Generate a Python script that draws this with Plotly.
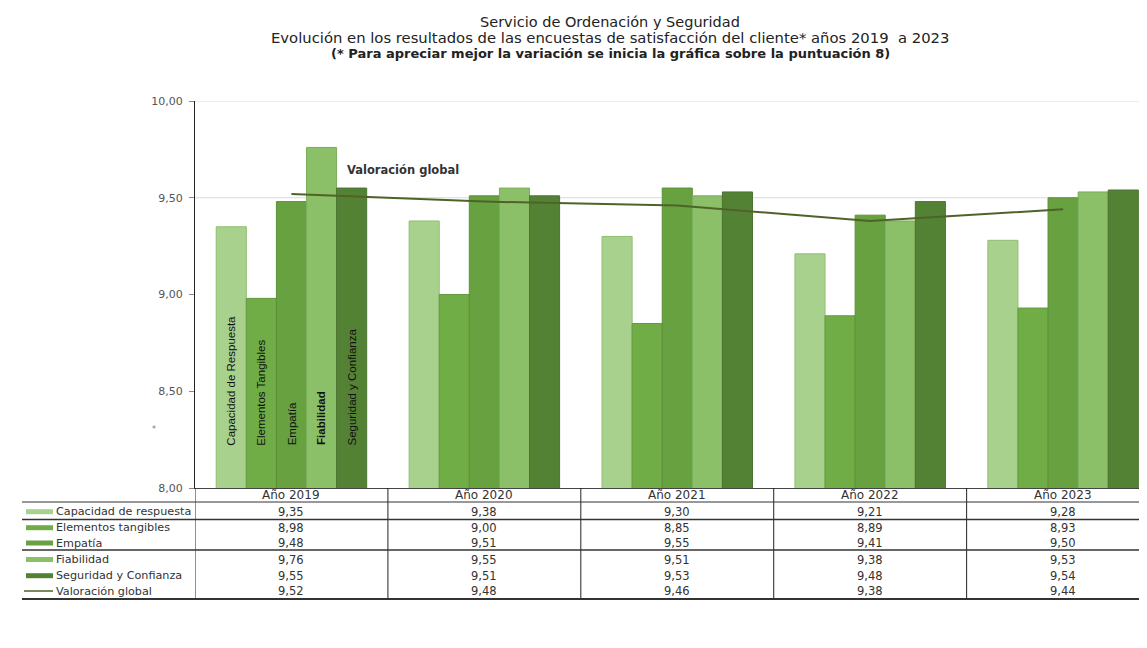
import plotly.graph_objects as go

years = ["Año 2019", "Año 2020", "Año 2021", "Año 2022", "Año 2023"]
series_names = ["Capacidad de respuesta", "Elementos tangibles", "Empatía",
                "Fiabilidad", "Seguridad y Confianza"]
bar_labels = ["Capacidad de Respuesta", "Elementos Tangibles", "Empatía",
              "<b>Fiabilidad</b>", "Seguridad y Confianza"]
capacidad = [9.35, 9.38, 9.30, 9.21, 9.28]
elementos = [8.98, 9.00, 8.85, 8.89, 8.93]
empatia = [9.48, 9.51, 9.55, 9.41, 9.50]
fiabilidad = [9.76, 9.55, 9.51, 9.38, 9.53]
seguridad = [9.55, 9.51, 9.53, 9.48, 9.54]
valoracion = [9.52, 9.48, 9.46, 9.38, 9.44]
line_name = "Valoración global"
yticks = [8.0, 8.5, 9.0, 9.5, 10.0]

colors = ["#a9d18e", "#70ad47", "#67a140", "#8cc068", "#548235"]
edge = ["#8fbf6e", "#639a3d", "#5b9138", "#7aae58", "#4a7430"]
line_color = "#4f6228"

values = [capacidad, elementos, empatia, fiabilidad, seguridad]
x_idx = list(range(len(years)))

FONT = "DejaVu Sans, Verdana, sans-serif"
NARROW = "Liberation Sans, Arial, sans-serif"

def fmt(v):
    return f"{v:.2f}".replace(".", ",")

BARGAP = 0.22
fig = go.Figure()
for i, (name, vals) in enumerate(zip(series_names, values)):
    fig.add_trace(go.Bar(
        x=x_idx, y=vals, name=name,
        marker=dict(color=colors[i], line=dict(color=edge[i], width=1)),
    ))
fig.add_trace(go.Scatter(x=x_idx, y=valoracion, mode="lines", name=line_name,
                         line=dict(color=line_color, width=2)))

# page offset (body margin) and geometry in reference window pixels
OX, OY = 8, 8
W, H = 1147 - OX, 648 - OY
L = 195 - OX
T = 101 - OY
B = H - (488 - OY)
plot_w = W - L
plot_h = H - T - B

def py(Y):  # reference window pixel y -> paper y
    return (H - B - (Y - OY)) / plot_h

def px(X):
    return ((X - OX) - L) / plot_w

shapes = []
annotations = []

# in-bar series labels (first group)
nser = len(series_names)
bw = (1 - BARGAP) / nser
for i, lab in enumerate(bar_labels):
    annotations.append(dict(x=0 + (i - (nser - 1) / 2) * bw, y=8.21, xref="x", yref="y",
                            text=lab, textangle=-90, showarrow=False,
                            xanchor="center", yanchor="bottom",
                            font=dict(family=NARROW, size=11.5, color="#111111")))

# gridlines at 9.5 and 10
for gy in [9.5, 10.0]:
    shapes.append(dict(type="line", xref="paper", yref="y", x0=0, x1=1, y0=gy, y1=gy,
                       line=dict(color="#d9d9d9", width=1), layer="below"))

# table
row_y = [511.7, 527.7, 543, 559.5, 575.7, 591]
header_y = 495
table_bottom = 599
for k in range(len(years)):
    annotations.append(dict(x=k, y=py(header_y), xref="x", yref="paper", text=years[k],
                            showarrow=False, font=dict(family=FONT, size=12, color="#333333"),
                            xanchor="center", yanchor="middle"))
table_cols = values + [valoracion]
for r, col in enumerate(table_cols):
    for k in range(len(years)):
        annotations.append(dict(x=k, y=py(row_y[r]), xref="x", yref="paper", text=fmt(col[k]),
                                showarrow=False, font=dict(family=FONT, size=11.5, color="#333333"),
                                xanchor="center", yanchor="middle"))
row_names = series_names + [line_name]
for r, nm in enumerate(row_names):
    annotations.append(dict(x=px(54), y=py(row_y[r]), xref="paper", yref="paper", text=nm,
                            showarrow=False, font=dict(family=FONT, size=11.2, color="#333333"),
                            xanchor="left", yanchor="middle"))
    if r < 5:
        shapes.append(dict(type="rect", xref="paper", yref="paper",
                           x0=px(26), x1=px(53), y0=py(row_y[r] - 2.5), y1=py(row_y[r] + 2.5),
                           fillcolor=colors[r], line=dict(width=0)))
    else:
        shapes.append(dict(type="line", xref="paper", yref="paper",
                           x0=px(24), x1=px(53), y0=py(row_y[r]), y1=py(row_y[r]),
                           line=dict(color=line_color, width=1.5)))

# vertical table lines
for k in range(len(years) + 1):
    shapes.append(dict(type="line", xref="x", yref="paper", x0=k - 0.5, x1=k - 0.5,
                       y0=0, y1=py(table_bottom), line=dict(color="#222222", width=1)))
# horizontal table lines
for Y, wdt in [(502, 1), (519.5, 1.5), (550, 1.5), (599, 2)]:
    shapes.append(dict(type="line", xref="paper", yref="paper", x0=px(22), x1=1.05,
                       y0=py(Y), y1=py(Y), line=dict(color="#333333", width=wdt)))

# line label
annotations.append(dict(x=0.58, y=9.645, xref="x", yref="y", text="<b>Valoración global</b>",
                        showarrow=False, font=dict(family=FONT, size=11.5, color="#333333"),
                        xanchor="center", yanchor="middle"))
annotations.append(dict(x=px(150), y=py(436), xref="paper", yref="paper", text="*",
                        showarrow=False, font=dict(size=8, color="#777777")))

# titles
title_lines = ["Servicio de Ordenación y Seguridad",
               "Evolución en los resultados de las encuestas de satisfacción del cliente* años 2019  a 2023",
               "<b>(* Para apreciar mejor la variación se inicia la gráfica sobre la puntuación 8)</b>"]
title_sizes = [14.5, 14.8, 13]
for ty, tl, ts in zip([22, 37, 53], title_lines, title_sizes):
    annotations.append(dict(x=px(610), y=py(ty), xref="paper", yref="paper", text=tl,
                            showarrow=False, font=dict(family=FONT, size=ts, color="#222222"),
                            xanchor="center", yanchor="middle"))

fig.update_layout(
    width=W, height=H,
    margin=dict(l=L, r=0, t=T, b=B),
    paper_bgcolor="white", plot_bgcolor="white",
    barmode="group", bargap=BARGAP, bargroupgap=0,
    showlegend=False,
    font=dict(family=FONT, color="#333333"),
    separators=",.",
    xaxis=dict(range=[-0.5, 4.435], showticklabels=False, ticks="", showgrid=False,
               zeroline=False, showline=True, linecolor="#444444", linewidth=1),
    yaxis=dict(range=[8, 10], tickvals=yticks, tickformat=".2f", showgrid=False,
               zeroline=False, showline=True, linecolor="#222222", linewidth=1,
               ticks="outside", ticklen=5, tickcolor="#888888", ticklabelstandoff=4,
               tickfont=dict(family=FONT, size=11, color="#555555")),
    shapes=shapes, annotations=annotations,
)

fig.write_html("out.html")
